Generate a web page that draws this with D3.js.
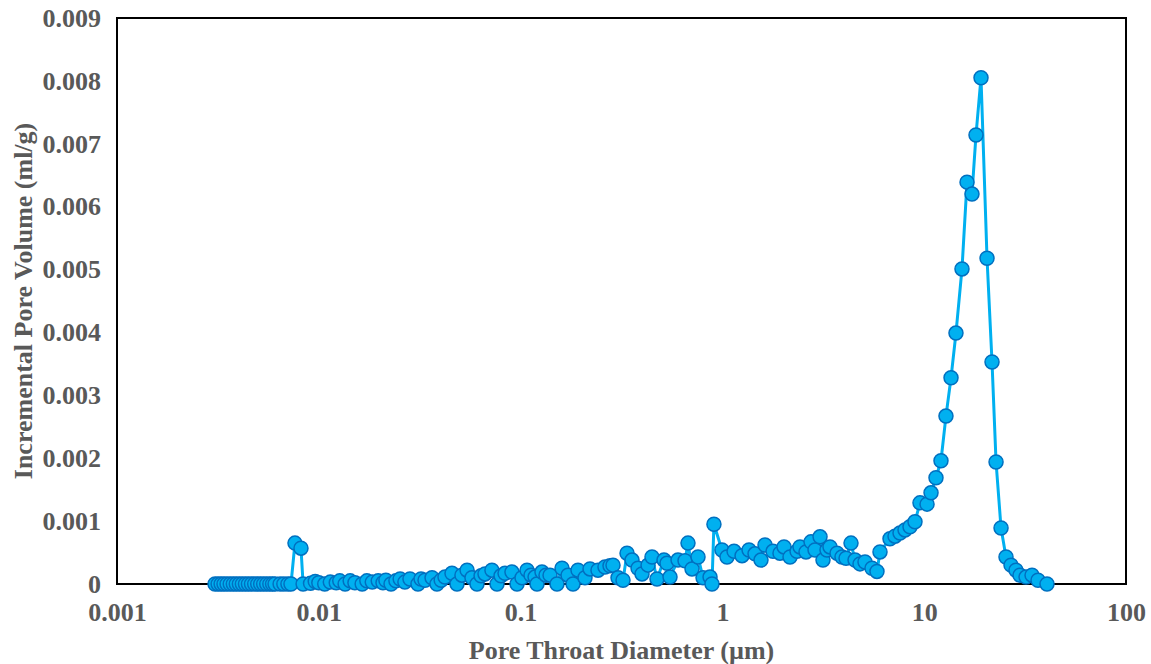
<!DOCTYPE html>
<html>
<head>
<meta charset="utf-8">
<script src="https://cdn.jsdelivr.net/npm/d3@7"></script>
<style>
  html, body { margin: 0; padding: 0; background: #ffffff; }
  svg { display: block; }
  text { font-family: "Liberation Serif", "Times New Roman", serif; font-weight: bold; fill: #595959; }
</style>
</head>
<body>
<svg id="chart" width="1151" height="664"></svg>
<script>
// Pore throat diameter (µm) and incremental intrusion volume (ml/g)
const diameters = [
  0.00306, 0.00317, 0.00328, 0.00339, 0.00351, 0.00364, 0.00377, 0.00390, 0.00404, 0.00418,
  0.00433, 0.00448, 0.00464, 0.00481, 0.00498, 0.00515, 0.00533, 0.00552, 0.00572, 0.00590,
  0.00607, 0.00643, 0.00671, 0.00703, 0.00728,
  0.00762, 0.00816, 0.00836, 0.00910, 0.00960,
  0.0100, 0.0107, 0.0114, 0.0122, 0.0127, 0.0135, 0.0143, 0.0151, 0.0164, 0.0173,
  0.0184, 0.0197, 0.0208, 0.0215, 0.0228, 0.0241, 0.0253, 0.0267, 0.0283, 0.0310,
  0.0321, 0.0336, 0.0364, 0.0385, 0.0404, 0.0422, 0.0457, 0.0484, 0.0512, 0.0543,
  0.0574, 0.0608, 0.0637, 0.0666, 0.0721, 0.0764, 0.0800, 0.0837, 0.0906, 0.0960,
  0.1016, 0.1076, 0.1126, 0.1179, 0.1206, 0.1276, 0.1336, 0.1399, 0.1515, 0.1604,
  0.1718, 0.1819, 0.1925, 0.2085, 0.2208, 0.2418, 0.2619, 0.2773, 0.2870, 0.3039,
  0.3217, 0.3368, 0.3565, 0.3818, 0.3996, 0.4280, 0.4479, 0.4742, 0.5135, 0.5314,
  0.5500, 0.6026, 0.6527, 0.6753, 0.7070, 0.7570, 0.8017, 0.8683, 0.8880, 0.9080,
  0.995, 1.054, 1.142, 1.251, 1.355, 1.451, 1.553, 1.626, 1.781, 1.929,
  2.020, 2.163, 2.343, 2.424, 2.596, 2.748, 2.877, 3.046, 3.151, 3.298,
  3.413, 3.698, 3.914, 4.099, 4.338, 4.541, 4.808, 5.089, 5.511, 5.834,
  6.039, 6.768, 7.166, 7.588, 8.034, 8.503, 9.003, 9.53, 10.33, 10.81,
  11.44, 12.11, 12.82, 13.58, 14.37, 15.39, 16.30, 17.25, 18.06, 19.12,
  20.48, 21.68, 22.70, 24.03, 25.43, 26.93, 28.50, 29.84, 31.96, 34.22,
  36.64, 40.6
];
const volumes = [
  0, 0, 0, 0, 0, 0, 0, 0, 0, 0,
  0, 0, 0, 0, 0, 0, 0, 0, 0, 0,
  0, 0, 0, 0, 0,
  0.00065, 0.00057, 0, 0.00001, 0.00004,
  0.00002, 0, 0.00003, 0.00002, 0.00005, 0, 0.00005, 0.00002, 0, 0.00005,
  0.00003, 0.00005, 0.00002, 0.00006, 0, 0.00005, 0.00008, 0.00003, 0.00008, 0,
  0.00008, 0.00006, 0.00010, 0, 0.00006, 0.00011, 0.00017, 0, 0.00014, 0.00022,
  0.00010, 0, 0.00013, 0.00016, 0.00022, 0, 0.00013, 0.00017, 0.00019, 0,
  0.00010, 0.00022, 0.00014, 0.00011, 0, 0.00019, 0.00014, 0.00014, 0, 0.00025,
  0.00014, 0, 0.00022, 0.00010, 0.00024, 0.00022, 0.00027, 0.00029, 0.00030, 0.00010,
  0.00006, 0.00049, 0.00038, 0.00025, 0.00016, 0.00030, 0.00043, 0.00008, 0.00038, 0.00033,
  0.00011, 0.00038, 0.00037, 0.00065, 0.00024, 0.00043, 0.00010, 0.00011, 0, 0.00095,
  0.00054, 0.00043, 0.00052, 0.00045, 0.00054, 0.00048, 0.00038, 0.00062, 0.00052, 0.00049,
  0.00059, 0.00043, 0.00052, 0.00059, 0.00051, 0.00067, 0.00054, 0.00075, 0.00038, 0.00054,
  0.00059, 0.00049, 0.00043, 0.00041, 0.00065, 0.00038, 0.00032, 0.00035, 0.00025, 0.00020,
  0.00051, 0.00072, 0.00076, 0.00081, 0.00086, 0.00091, 0.00099, 0.00129, 0.00127, 0.00145,
  0.00169, 0.00196, 0.00267, 0.00328, 0.00399, 0.00501, 0.00639, 0.00620, 0.00714, 0.00805,
  0.00518, 0.00353, 0.00194, 0.00089, 0.00043, 0.00030, 0.00022, 0.00014, 0.00011, 0.00014,
  0.00006, 0
];
const xTickValues = [0.001, 0.01, 0.1, 1, 10, 100];
const xTickLabels = ["0.001", "0.01", "0.1", "1", "10", "100"];
const yTickValues = [0, 0.001, 0.002, 0.003, 0.004, 0.005, 0.006, 0.007, 0.008, 0.009];
const yTickLabels = ["0", "0.001", "0.002", "0.003", "0.004", "0.005", "0.006", "0.007", "0.008", "0.009"];
const xTitle = "Pore Throat Diameter (µm)";
const yTitle = "Incremental Pore Volume (ml/g)";

const points = diameters.map((d, i) => ({ d, v: volumes[i] }));

const plot = { left: 117, right: 1126, top: 18, bottom: 584 };
const fontSize = 26;
const svg = d3.select("#chart");

const x = d3.scaleLog().domain([0.001, 100]).range([plot.left, plot.right]);
const y = d3.scaleLinear().domain([0, 0.009]).range([plot.bottom, plot.top]);

function styleTicks(g) {
  g.select(".domain").remove();
  g.selectAll("text")
    .attr("font-size", fontSize)
    .attr("font-family", "Liberation Serif, Times New Roman, serif")
    .attr("font-weight", "bold")
    .attr("fill", "#595959");
}

// Axes: labels only, no tick marks
const xAxis = d3.axisBottom(x)
  .tickValues(xTickValues)
  .tickFormat((d, i) => xTickLabels[i])
  .tickSize(0)
  .tickPadding(19);
svg.append("g")
  .attr("transform", `translate(0,${plot.bottom})`)
  .call(xAxis)
  .call(styleTicks);

const yAxis = d3.axisLeft(y)
  .tickValues(yTickValues)
  .tickFormat((d, i) => yTickLabels[i])
  .tickSize(0)
  .tickPadding(16);
svg.append("g")
  .attr("transform", `translate(${plot.left},0)`)
  .call(yAxis)
  .call(styleTicks);

// Plot frame
svg.append("rect")
  .attr("x", plot.left)
  .attr("y", plot.top)
  .attr("width", plot.right - plot.left)
  .attr("height", plot.bottom - plot.top)
  .attr("fill", "none")
  .attr("stroke", "#000")
  .attr("stroke-width", 2);

// Connecting line
const line = d3.line()
  .x(p => x(p.d))
  .y(p => y(p.v));
svg.append("path")
  .datum(points)
  .attr("d", line)
  .attr("fill", "none")
  .attr("stroke", "#00B0F0")
  .attr("stroke-width", 3)
  .attr("stroke-linejoin", "round");

// Markers
svg.append("g")
  .selectAll("circle")
  .data(points)
  .join("circle")
  .attr("cx", p => x(p.d))
  .attr("cy", p => y(p.v))
  .attr("r", 7)
  .attr("fill", "#00B0F0")
  .attr("stroke", "#0070C0")
  .attr("stroke-width", 1.5);

// Axis titles
svg.append("text")
  .attr("x", (plot.left + plot.right) / 2)
  .attr("y", 659)
  .attr("text-anchor", "middle")
  .attr("font-size", fontSize)
  .text(xTitle);

svg.append("text")
  .attr("transform", `translate(32,${(plot.top + plot.bottom) / 2}) rotate(-90)`)
  .attr("text-anchor", "middle")
  .attr("font-size", fontSize)
  .text(yTitle);
</script>
</body>
</html>
